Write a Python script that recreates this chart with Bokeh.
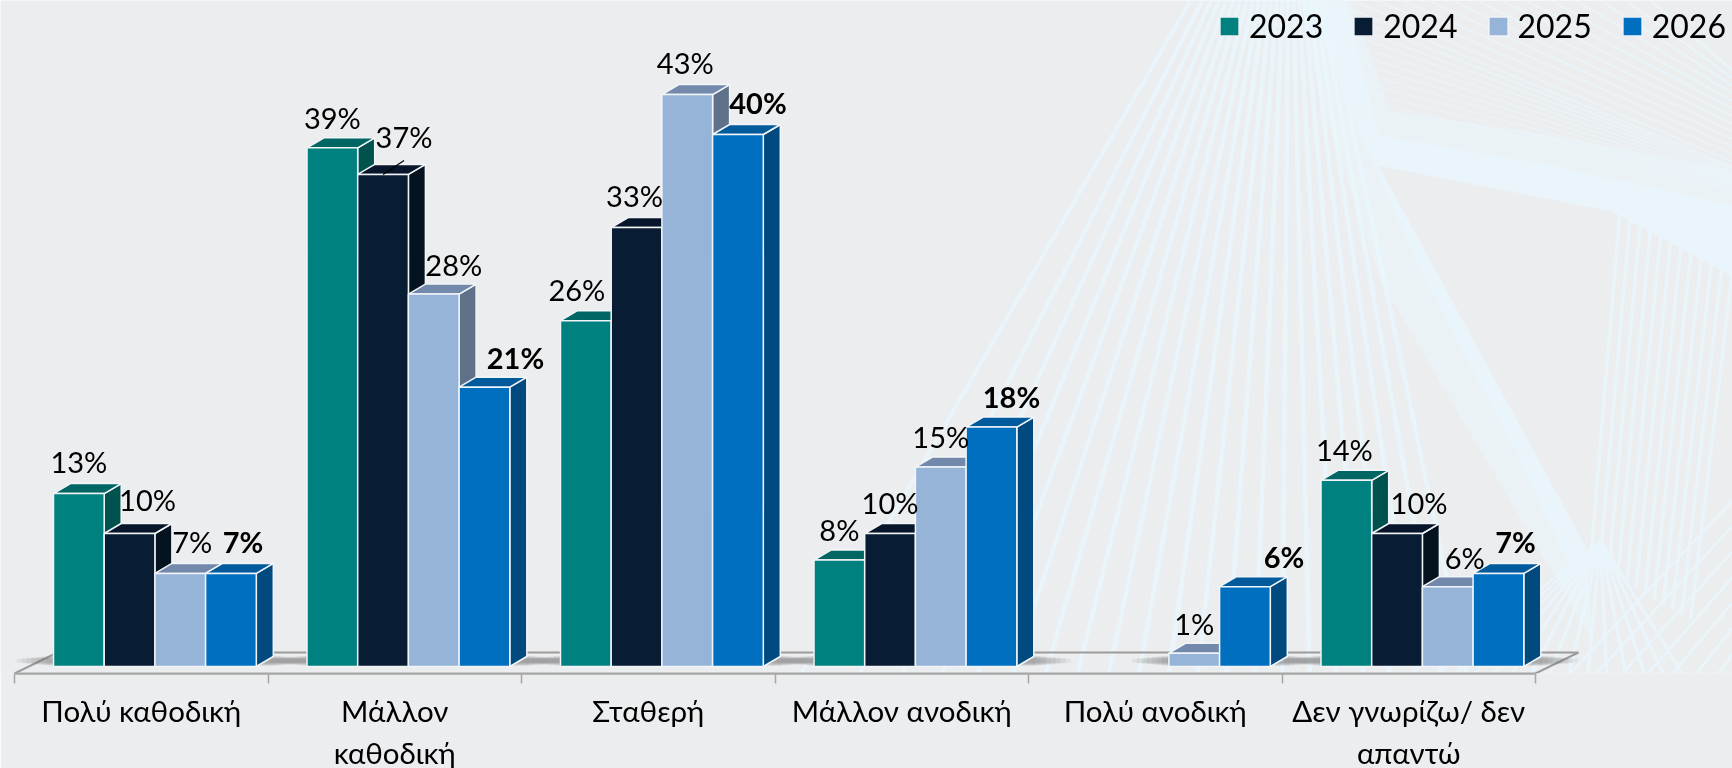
from bokeh.plotting import figure
from bokeh.embed import file_html
from bokeh.resources import INLINE
from bokeh.core.properties import value
from bokeh.models import (ColumnDataSource, FixedTicker, LinearAxis, Legend, LegendItem,
                          PolyAnnotation, Range1d)

categories = ["Πολύ καθοδική", "Μάλλον\nκαθοδική", "Σταθερή", "Μάλλον ανοδική", "Πολύ ανοδική", "Δεν γνωρίζω/ δεν\nαπαντώ"]
years = ["2023", "2024", "2025", "2026"]
v2023 = [13, 39, 26, 8, None, 14]
v2024 = [10, 37, 33, 10, None, 10]
v2025 = [7, 28, 43, 15, 1, 6]
v2026 = [7, 21, 40, 18, 6, 7]
series = [v2023, v2024, v2025, v2026]

FRONT = ["#00807F", "#081C33", "#96B3D8", "#006FC0"]
TOP = ["#006664", "#07162A", "#7389AB", "#005A9C"]
SIDE = ["#00524F", "#04131F", "#5F7189", "#004A80"]
EDGE = "#F2F5F8"
BACK = "#ECEDEF"
FONT = "Lato"

# layout (pixels)
W, H = 1732, 768
AX_Y = 673
BASE_Y = 666
PX_Y = 13.3
CAT_PX = 253.5
LEFT_PX = 14
PAD = 39 / CAT_PX
BW = 50.7 / CAT_PX
DX = 17 / CAT_PX
DY = 10 / PX_Y
# label nudges relative to the bar's front centre (pixels), one row per series
NUDGE_X = [[0, 0, -9, 0, 0, -2], [18, 21, -2, 0, 0, 22], [12, 20, -2, 0, 0, 17], [12, 31, 20, 20, 39, 17]]
NUDGE_Y = [[-32, -30, -31, -31, 0, -31], [-34, -38, -32, -31, 0, -31], [-32, -30, -32, -31, -30, -29], [-32, -30, -32, -31, -30, -32]]

p = figure(frame_width=W, frame_height=AX_Y, width=W, height=H, toolbar_location=None, output_backend="svg",
           x_range=Range1d(-LEFT_PX / CAT_PX, (W - LEFT_PX) / CAT_PX),
           y_range=Range1d((BASE_Y - AX_Y) / PX_Y, BASE_Y / PX_Y),
           min_border_left=0, min_border_right=0, min_border_top=0, min_border_bottom=0,
           border_fill_color=BACK, background_fill_color=BACK, outline_line_color=None,
           x_axis_type=None, y_axis_type=None,
           styles={"position": "fixed", "left": "0px", "top": "0px"})
p.grid.visible = False


def bg(xs, ys, color="#E9F5FB", alpha=1.0):
    p.add_layout(PolyAnnotation(xs=xs, ys=ys, xs_units="canvas", ys_units="canvas", level="underlay",
                                fill_color=color, fill_alpha=alpha, line_color=None, line_alpha=0))


def ray(a, b, w):
    bg([a[0] - w / 2, a[0] + w / 2, b[0] + w / 2, b[0] - w / 2], [a[1], a[1], b[1], b[1]])


def lerp(a, b, t):
    return a + (b - a) * t


N = 22
for k in range(N):
    u = (k / (N - 1)) ** 0.8
    ray((lerp(746, 1486, u), H), (lerp(1190, 1325, u), 0), 4.5)
for k in range(26):
    t = k / 25
    if t < 0.5:
        a = (lerp(1372, 1340, t * 2), lerp(120, 0, t * 2))
        yb = lerp(190, 165, t * 2)
    else:
        a = (lerp(1340, 1650, t * 2 - 1), 0)
        yb = lerp(165, 70, t * 2 - 1)
    ray(a, (1732, yb), 3.5)
for k in range(12):
    t = k / 11
    ray((lerp(1620, 1732, t), lerp(205, 270, t)), (lerp(1590, 1690, t), lerp(560, 620, t)), 3.5)
for k in range(14):
    t = k / 13
    ray((1600, 540), (lerp(1320, 1740, t), H), 3.5)
for k in range(10):
    t = k / 9
    ray((lerp(1480, 1732, t), H), (1732, lerp(500, 730, t)), 3.5)
# pale bands where the fans merge: a soft outer layer and a solid core
bg([1310, 1350, 1390, 1550, 1732, 1732, 1612, 1378, 1330], [0, 0, 110, 135, 170, 276, 211, 165, 60], alpha=0.55)
bg([1300, 1345, 1378, 1585, 1592, 1480, 1380, 1320], [0, 0, 165, 546, 640, 450, 280, 100], alpha=0.55)
bg([1322, 1345, 1378, 1550, 1732, 1732, 1612, 1378, 1338], [0, 0, 135, 165, 205, 276, 211, 165, 60])
bg([1322, 1345, 1378, 1585, 1590, 1515, 1420, 1345], [0, 0, 165, 546, 610, 450, 270, 100])

# floor
left_back = 43 / CAT_PX
floor_back = (BASE_Y - 652) / PX_Y
floor_front = (BASE_Y - AX_Y) / PX_Y
p.line([left_back, 6 + left_back, 6], [floor_back, floor_back, floor_front], line_color="#9B9B9B", line_width=2)
p.line([0, left_back], [floor_front, floor_back], line_color="#9B9B9B", line_width=2)

# soft shadow on the floor
for i in range(len(categories)):
    present = [j for j in range(4) if series[j][i] is not None]
    x0 = i + PAD + present[0] * BW
    x1 = i + PAD + 4 * BW + DX
    for s in range(8):
        grow = (2 + s * 5) / CAT_PX
        p.quad(left=x0 - grow, right=x1 + grow, bottom=(0.5 + s * 0.45) / PX_Y, top=(11 - s * 0.45) / PX_Y,
               fill_color="#6A6A6A", fill_alpha=0.09, line_color=None)

# bars
fronts = []
for j, vals in enumerate(series):
    lefts = [i + PAD + j * BW for i, v in enumerate(vals) if v is not None]
    tops = [v for v in vals if v is not None]
    rights = [l + BW for l in lefts]
    side_x = [[r, r + DX, r + DX, r] for r in rights]
    side_y = [[0, DY, t + DY, t] for t in tops]
    top_x = [[l, l + DX, r + DX, r] for l, r in zip(lefts, rights)]
    top_y = [[t, t + DY, t + DY, t] for t in tops]
    p.patches(side_x, side_y, fill_color=SIDE[j], line_color=EDGE, line_width=1.5)
    p.patches(top_x, top_y, fill_color=TOP[j], line_color=EDGE, line_width=1.5)
    fronts.append(p.quad(left=lefts, right=rights, bottom=0, top=tops, fill_color=FRONT[j], line_color=EDGE, line_width=1.5))

# value labels
for j, vals in enumerate(series):
    idx = [i for i, v in enumerate(vals) if v is not None]
    src = ColumnDataSource(dict(
        x=[i + PAD + (j + 0.5) * BW for i in idx],
        y=[vals[i] for i in idx],
        t=[f"{vals[i]}%" for i in idx],
        dx=[NUDGE_X[j][i] for i in idx],
        dy=[NUDGE_Y[j][i] for i in idx],
    ))
    p.text("x", "y", text="t", source=src, x_offset="dx", y_offset="dy", text_align="center", text_baseline="middle",
           text_font=value(FONT), text_font_size="29px", text_color="#000000",
           text_font_style="bold" if j == 3 else "normal")

# leader line of the 37% label
cx = 1 + PAD + 1.5 * BW
p.segment(cx, v2024[1], cx + 21 / CAT_PX, v2024[1] + 14 / PX_Y, line_color="#000000", line_width=1.2)

# axis: labels sit on the major ticks (category centres), tick marks on the minor ticks (boundaries)
axis = LinearAxis(ticker=FixedTicker(ticks=[i + 0.5 for i in range(6)], minor_ticks=list(range(7))),
                  bounds=(0, 6),
                  major_label_overrides={i + 0.5: c for i, c in enumerate(categories)},
                  axis_line_color="#A6A6A6", axis_line_width=2.25,
                  major_tick_line_color=None, major_tick_in=0, major_tick_out=0,
                  minor_tick_line_color="#A6A6A6", minor_tick_line_width=1.5, minor_tick_in=0, minor_tick_out=10,
                  major_label_standoff=9,
                  major_label_text_font=FONT, major_label_text_font_size="29.5px", major_label_text_color="#000000")
p.add_layout(axis, "below")

legend = Legend(items=[LegendItem(label=y, renderers=[r]) for y, r in zip(years, fronts)],
                orientation="horizontal", location=(1217, AX_Y - 45), background_fill_alpha=0, border_line_color=None,
                glyph_width=24, glyph_height=24, label_standoff=8, spacing=28, padding=0, margin=0,
                label_text_font=FONT, label_text_font_size="32px", label_text_color="#000000")
p.add_layout(legend, "center")

open("out.html", "w").write(file_html(p, INLINE))
